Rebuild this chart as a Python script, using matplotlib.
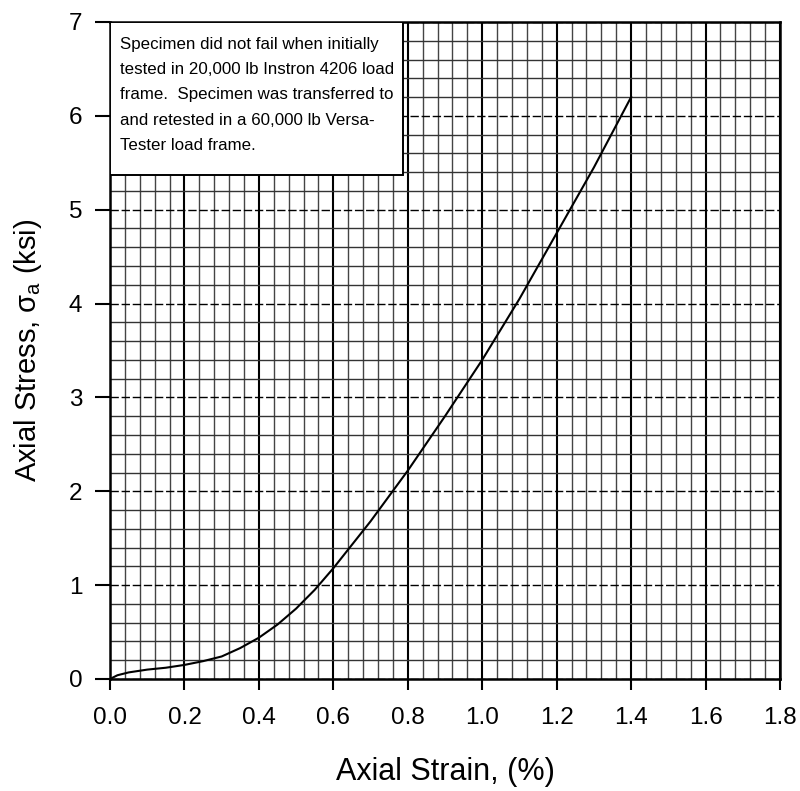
import matplotlib.pyplot as plt
from matplotlib.ticker import MultipleLocator
from matplotlib.patches import Rectangle

plt.rcParams['font.family'] = ['Liberation Sans', 'DejaVu Sans']
plt.rcParams['mathtext.fontset'] = 'custom'
plt.rcParams['mathtext.rm'] = 'Liberation Sans'
plt.rcParams['mathtext.it'] = 'Liberation Sans'

# strain (%) and stress (ksi)
strain = [0.0, 0.02, 0.05, 0.1, 0.15, 0.2, 0.25, 0.3, 0.35, 0.4, 0.45, 0.5,
          0.55, 0.6, 0.7, 0.8, 0.9, 1.0, 1.1, 1.2, 1.3, 1.4]
stress = [0.0, 0.04, 0.07, 0.1, 0.12, 0.15, 0.19, 0.24, 0.33, 0.44, 0.58, 0.75,
          0.95, 1.18, 1.68, 2.22, 2.8, 3.4, 4.05, 4.75, 5.45, 6.2]

note = ("Specimen did not fail when initially\n"
        "tested in 20,000 lb Instron 4206 load\n"
        "frame.  Specimen was transferred to\n"
        "and retested in a 60,000 lb Versa-\n"
        "Tester load frame.")

fig = plt.figure(figsize=(8, 7.91), dpi=100)
ax = fig.add_axes([0.1375, 0.1416, 0.8375, 0.8306])

ax.plot(strain, stress, color='black', lw=1.5, zorder=3)

ax.set_xlim(0, 1.8)
ax.set_ylim(0, 7)
ax.xaxis.set_major_locator(MultipleLocator(0.2))
ax.xaxis.set_minor_locator(MultipleLocator(0.04))
ax.yaxis.set_major_locator(MultipleLocator(1))
ax.yaxis.set_minor_locator(MultipleLocator(0.2))
ax.xaxis.set_major_formatter(plt.FormatStrFormatter('%.1f'))

ax.grid(which='major', axis='x', color='black', lw=1.5)
ax.grid(which='minor', axis='x', color='#444444', lw=1.0)
ax.grid(which='major', axis='y', color='black', lw=1.0, ls=(0, (6, 2)))
ax.grid(which='minor', axis='y', color='#333333', lw=1.0)
ax.set_axisbelow(True)

for s in ax.spines.values():
    s.set_linewidth(1.8)

ax.tick_params(which='major', direction='out', width=1.5, labelsize=17.5)
ax.tick_params(axis='x', which='major', length=8, pad=12)
ax.tick_params(axis='y', which='major', length=11, pad=9)
ax.tick_params(which='minor', length=0)

ax.set_xlabel('Axial Strain, (%)', fontsize=22, labelpad=20)
ax.set_ylabel(r'Axial Stress, $\sigma_{\mathrm{a}}$ (ksi)', fontsize=21, labelpad=18)

# note box in the upper left corner
ax.add_patch(Rectangle((0, 0.767), 0.437, 0.233, transform=ax.transAxes,
                       facecolor='white', edgecolor='black', lw=1.4, zorder=5))
ax.text(0.015, 0.889, note, transform=ax.transAxes, fontsize=12.2,
        va='center', ha='left', linespacing=1.85, zorder=6)

plt.savefig('out.png', dpi=100)
